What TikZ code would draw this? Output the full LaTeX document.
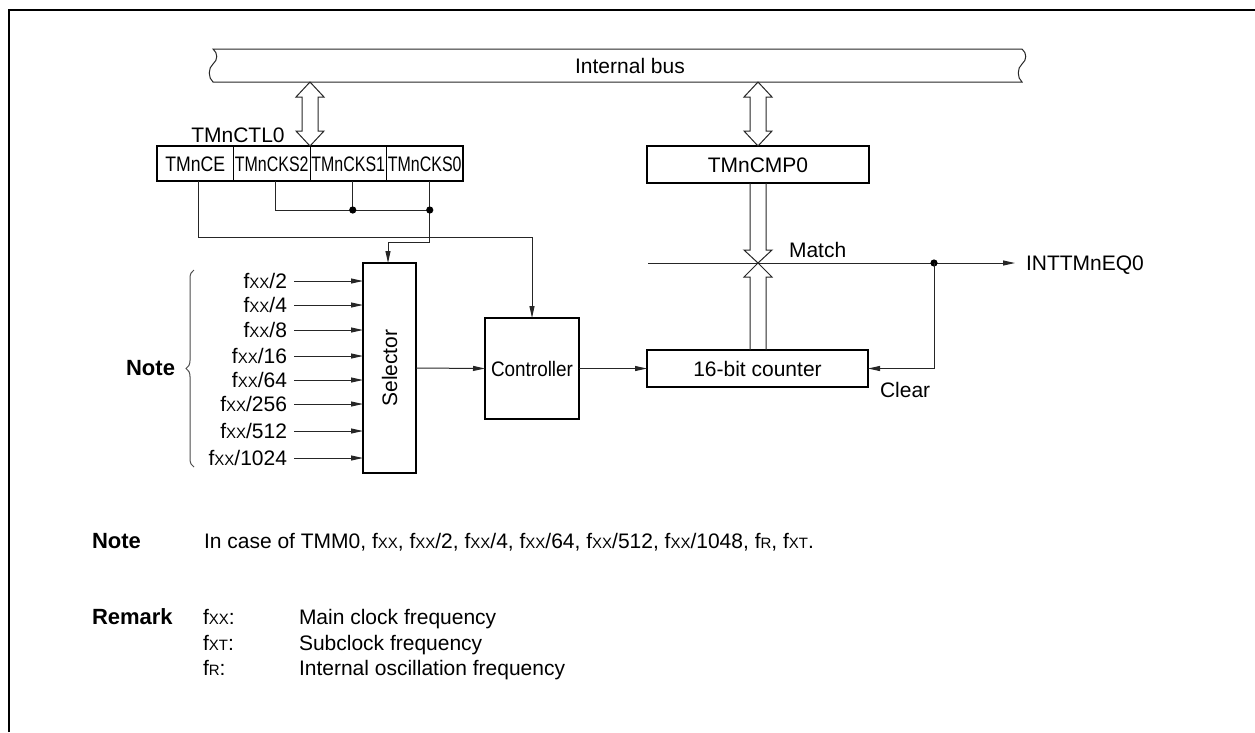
\documentclass[tikz,border=0pt]{standalone}
\usepackage{fontspec}
\setmainfont{Liberation Sans}
\usetikzlibrary{arrows.meta,decorations.pathreplacing,calc}
\newcommand\sx[1]{{\fontsize{15}{15}\selectfont #1}}
\begin{document}
\begin{tikzpicture}[x=1pt,y=-1pt,
  every node/.style={font=\fontsize{21}{25}\selectfont, inner sep=0pt, outer sep=0pt, text height=15pt, text depth=0pt},
  boldlbl/.style={font=\fontsize{22}{26}\selectfont\bfseries},
  wire/.style={line width=1pt, black!85},
  sig/.style={wire, -{Triangle[length=12pt,width=5pt]}},
  blockbox/.style={draw, line width=2.6pt},
  cell/.style={draw, line width=1pt, minimum width=76.5, minimum height=35}]
\useasboundingbox (0,0) rectangle (1255,732);
% frame
\draw[line width=2.6pt] (9,732) -- (9,10) -- (1255,10);
% internal bus
\draw[wire] (213,49) -- (1022,49) .. controls (1027,53) and (1027,60) .. (1022,64)
  .. controls (1017,68) and (1017,78) .. (1022,82) -- (213,82)
  .. controls (208,78) and (208,68) .. (213,64) .. controls (218,60) and (218,53) .. (213,49) -- cycle;
\node (bus) at (630,66) {Internal bus};
% register TMnCTL0
\node (ctllbl) at (238,135) {TMnCTL0};
\node[cell] (ce) at (195.25,163.5) {\scalebox{0.84}[1]{TMnCE}};
\node[cell] (cks2) at (271.75,163.5) {\scalebox{0.76}[1]{TMnCKS2}};
\node[cell] (cks1) at (348.25,163.5) {\scalebox{0.76}[1]{TMnCKS1}};
\node[cell] (cks0) at (424.75,163.5) {\scalebox{0.76}[1]{TMnCKS0}};
\draw[line width=2.6pt] (ce.north west) rectangle (cks0.south east);
% compare register
\node[blockbox, minimum width=222, minimum height=37] (cmp) at (758,164.5) {TMnCMP0};
% double arrows bus <-> registers
\draw[wire] (310,82) -- ++(14,15) -- ++(-6,0) -- ++(0,34) -- ++(6,0) -- ++(-14,15)
  -- ++(-14,-15) -- ++(6,0) -- ++(0,-34) -- ++(-6,0) -- cycle;
\draw[wire] (758,82) -- ++(14,15) -- ++(-6,0) -- ++(0,34) -- ++(6,0) -- ++(-14,15)
  -- ++(-14,-15) -- ++(6,0) -- ++(0,-34) -- ++(-6,0) -- cycle;
% selector, controller, counter
\node[blockbox, minimum width=53, minimum height=210] (sel) at (389.5,368) {};
\node[rotate=90] (seltxt) at (sel.center) {Selector};
\node[blockbox, minimum width=94, minimum height=101] (ctrl) at (532,368.5) {\scalebox{0.9}[1]{Controller}};
\node[blockbox, minimum width=221, minimum height=37] (cnt) at (757.5,368.5) {16-bit counter};
% inputs
\foreach \yy/\tt in {281/2,305/4,330/8,356/16,380/64,404/256,431/512,458/1024}{
  \node[anchor=east] (in\tt) at (287,\yy) {f\sx{XX}/\tt};
  \draw[sig] ([xshift=7pt]in\tt.east) -- (in\tt.east -| sel.west);
}
\draw[wire, black!70, decorate, decoration={brace, amplitude=8pt}] (194,467) -- (194,270);
\node[boldlbl, anchor=east] (notelbl) at (175,368) {Note};
% register wiring
\coordinate (j1) at ($(cks1.south)+(4.5,29)$);
\coordinate (j0) at ($(cks0.south)+(5,29)$);
\draw[sig] ([xshift=3pt]ce.south) -- ++(0,56) -| (ctrl.north);
\draw[wire] ([xshift=3.5pt]cks2.south) |- (j0);
\draw[wire] ([xshift=4.5pt]cks1.south) -- (j1);
\draw[sig] ([xshift=5pt]cks0.south) -- ++(0,61) -| ([xshift=-1.5pt]sel.north);
\fill (j1) circle[radius=3.6pt];
\fill (j0) circle[radius=3.6pt];
% signal flow
\draw[sig] (sel.east) -- (ctrl.west);
\draw[sig] (ctrl.east) -- (cnt.west);
% match crossing
\coordinate (mx) at (758,263);
\draw[wire] ($(cmp.south)+(-8,0)$) -- ($(mx)+(-8,-13)$) -- ++(-6,0) -- (mx) -- ++(14,-13) -- ++(-6,0) -- ($(cmp.south)+(8,0)$);
\draw[wire] ($(cnt.north)+(-7.5,0)$) -- ($(mx)+(-8,14)$) -- ++(-6,0) -- (mx) -- ++(14,14) -- ++(-6,0) -- ($(cnt.north)+(8.5,0)$);
\coordinate (mstart) at (648,263);
\coordinate (mdot) at (934,263);
\draw[wire] (mstart) -- (mdot);
\node[anchor=west] (matchlbl) at (789,250) {Match};
\node[anchor=west] (int) at (1026,263) {INTTMnEQ0};
\draw[sig] (mdot) -- ([xshift=-11pt]int.west);
\fill (mdot) circle[radius=3.6pt];
\draw[sig] (mdot) |- (cnt.east);
\node[anchor=west] (clearlbl) at (880,390) {Clear};
% notes
\node[boldlbl, anchor=west] (nnote) at (92,541) {Note};
\node[anchor=west] (ntext) at (204,541) {In case of TMM0, f\sx{XX}, f\sx{XX}/2, f\sx{XX}/4, f\sx{XX}/64, f\sx{XX}/512, f\sx{XX}/1048, f\sx{R}, f\sx{XT}.};
\node[boldlbl, anchor=west] (rem) at (92,617) {Remark};
\node[anchor=west] (r1a) at (203,617) {f\sx{XX}:};
\node[anchor=west] (r1b) at (299,617) {Main clock frequency};
\node[anchor=west] (r2a) at (203,643) {f\sx{XT}:};
\node[anchor=west] (r2b) at (299,643) {Subclock frequency};
\node[anchor=west] (r3a) at (203,668) {f\sx{R}:};
\node[anchor=west] (r3b) at (299,668) {Internal oscillation frequency};
\end{tikzpicture}
\end{document}
